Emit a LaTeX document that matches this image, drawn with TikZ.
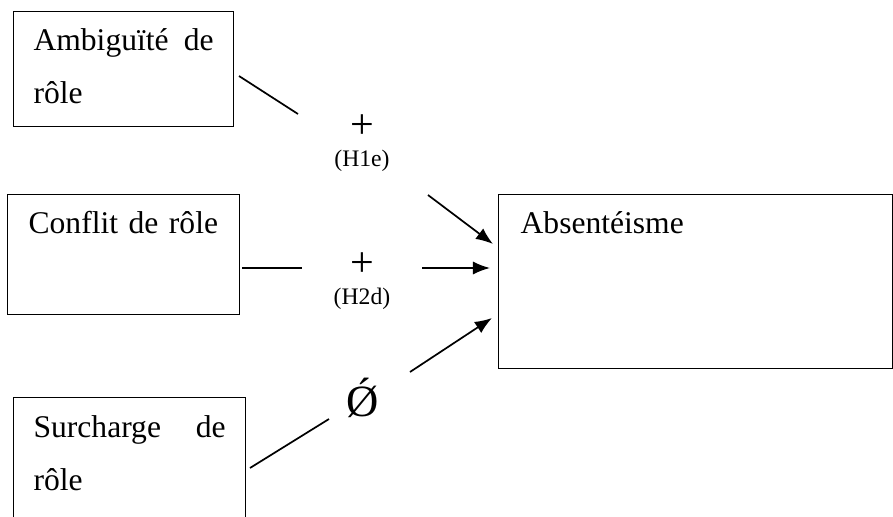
\documentclass[tikz,border=0pt]{standalone}
\usepackage{fontspec}
\setmainfont{Liberation Serif}
\usetikzlibrary{arrows.meta}

\begin{document}
\begin{tikzpicture}
      [x = 0.38pt, y = -0.38pt,
      box/.style= {
         draw,
         line width = 0.45pt,
         anchor = north west,
         align = left,
         inner xsep = 7.6pt,
         inner ysep = 0pt,
         text height = 14.8pt,
         font = \fontsize{12}{20.1}\selectfont
      },
      sign/.style = {font = \fontsize{16}{18}\selectfont},
      hyp/.style = {font = \fontsize{9}{11}\selectfont},
      link/.style = {line width = 0.65pt},
      effect/.style = {line width = 0.65pt, -{Latex[length = 6.5pt, width = 5pt]}}]

      \useasboundingbox (0, 0) rectangle (893, 517);

      % the three role stressors and the outcome
      \node[box, text width = 68.4pt, text depth = 28.9pt] (ambig) at (13, 11)
         {Ambiguïté \hfill de\\rôle};
      \node[box, inner xsep = 8pt, text width = 72.2pt, text depth = 30.8pt] (conflit) at (7, 194)
         {Conflit de rôle};
      \node[box, text width = 73pt, text depth = 35.3pt, text height = 15.2pt] (surch) at (13, 397)
         {Surcharge \hfill de\\rôle};
      \node[box, inner xsep = 8.4pt, text width = 133pt, text depth = 51.3pt] (absent) at (498, 194)
         {Absentéisme};

      % hypotheses
      \node[sign] (p1) at (362, 127) {+};
      \node[hyp] (h1) at (362, 161) {(H1e)};
      \node[sign] (p2) at (362, 265) {+};
      \node[hyp] (h2) at (362, 299) {(H2d)};
      \node[anchor = base, font = \fontsize{17}{19}\selectfont] (nul) at (363, 416) {Ǿ};

      % end points of the broken links
      \coordinate (a1) at (239, 76);
      \coordinate (a2) at (298, 114);
      \coordinate (a3) at (428, 195);
      \coordinate (a4) at (493, 244);
      \coordinate (c1) at (242, 268);
      \coordinate (c2) at (302, 268);
      \coordinate (c3) at (422, 268);
      \coordinate (c4) at (490, 268);
      \coordinate (s1) at (250, 468);
      \coordinate (s2) at (329, 419);
      \coordinate (s3) at (410, 372);
      \coordinate (s4) at (492, 318);

      \draw[link] (a1) -- (a2);
      \draw[effect] (a3) -- (a4);
      \draw[link] (c1) -- (c2);
      \draw[effect] (c3) -- (c4);
      \draw[link] (s1) -- (s2);
      \draw[effect] (s3) -- (s4);

\end{tikzpicture}
\end{document}
